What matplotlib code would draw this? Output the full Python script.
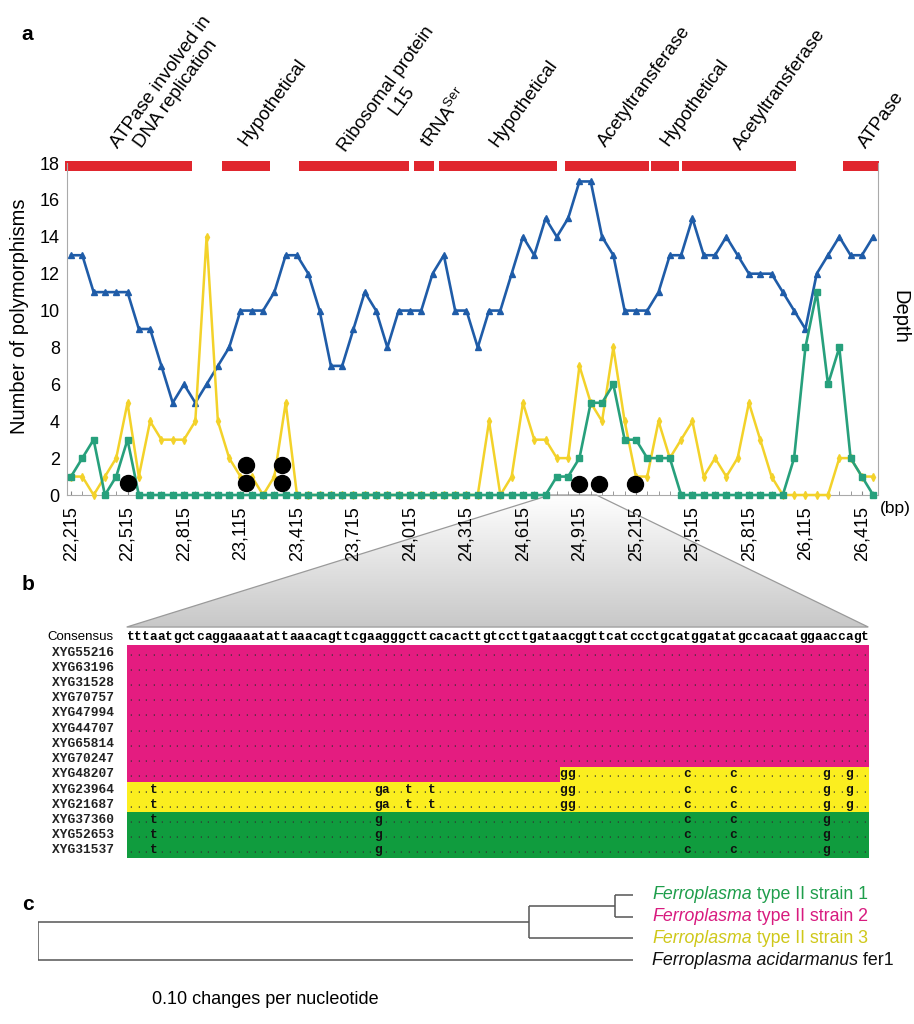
import numpy as np
import matplotlib.pyplot as plt
from matplotlib.patches import Polygon
from matplotlib.colors import ListedColormap, LinearSegmentedColormap

plt.rcParams['font.family'] = ['Liberation Sans', 'DejaVu Sans']
plt.rcParams['mathtext.fontset'] = 'custom'
plt.rcParams['mathtext.rm'] = 'Liberation Sans'
plt.rcParams['mathtext.it'] = 'Liberation Sans:italic'

# ---- panel a data ----
start_bp = 22215
step_bp = 60
depth = [13, 13, 11, 11, 11, 11, 9, 9, 7, 5, 6, 5, 6, 7, 8, 10, 10, 10, 11, 13, 13, 12, 10,
         7, 7, 9, 11, 10, 8, 10, 10, 10, 12, 13, 10, 10, 8, 10, 10, 12, 14, 13, 15, 14, 15, 17, 17, 14, 13,
         10, 10, 10, 11, 13, 13, 15, 13, 13, 14, 13, 12, 12, 12, 11, 10, 9, 12, 13, 14, 13, 13, 14]
yellow_poly = [1, 1, 0, 1, 2, 5, 1, 4, 3, 3, 3, 4, 14, 4, 2, 1, 1, 0, 1, 5, 0, 0, 0,
               0, 0, 0, 0, 0, 0, 0, 0, 0, 0, 0, 0, 0, 0, 4, 0, 1, 5, 3, 3, 2, 2, 7, 5, 4, 8,
               4, 1, 1, 4, 2, 3, 4, 1, 2, 1, 2, 5, 3, 1, 0, 0, 0, 0, 0, 2, 2, 1, 1]
green_poly = [1, 2, 3, 0, 1, 3, 0, 0, 0, 0, 0, 0, 0, 0, 0, 0, 0, 0, 0, 0, 0, 0, 0,
              0, 0, 0, 0, 0, 0, 0, 0, 0, 0, 0, 0, 0, 0, 0, 0, 0, 0, 0, 0, 1, 1, 2, 5, 5, 6,
              3, 3, 2, 2, 2, 0, 0, 0, 0, 0, 0, 0, 0, 0, 0, 2, 8, 11, 6, 8, 2, 1, 0]
dot_bp = [22515, 23145, 23145, 23335, 23335, 24915, 25020, 25210]
dot_y = [0.65, 0.65, 1.6, 0.65, 1.6, 0.6, 0.6, 0.6]

gene_start = [22183, 23019, 23427, 24039, 24171, 24837, 25293, 25461, 26313]
gene_end = [22857, 23271, 24009, 24141, 24795, 25287, 25443, 26067, 26505]
gene_names = ['ATPase involved in\nDNA replication', 'Hypothetical', 'Ribosomal protein\nL15',
              r'tRNA$^{\mathrm{Ser}}$', 'Hypothetical', 'Acetyltransferase', 'Hypothetical',
              'Acetyltransferase', 'ATPase']
label_x = [22535, 23145, 23745, 24120, 24480, 25056, 25385, 25773, 26437]
label_y = [18.2, 18.9, 18.03, 18.75, 18.85, 18.85, 18.9, 18.65, 18.75]

zoom_window = (24759, 25005)

# ---- panel b data ----
consensus = ("tttaatgctcaggaaaatattaaacagttcgaagggcttcacacttgtccttgataacgg"
             "ttcatccctgcatggatatgccacaatggaaccagt")
clone_names = ['XYG55216', 'XYG63196', 'XYG31528', 'XYG70757', 'XYG47994', 'XYG44707',
               'XYG65814', 'XYG70247', 'XYG48207', 'XYG23964', 'XYG21687', 'XYG37360',
               'XYG52653', 'XYG31537']
clone_strain = [2, 2, 2, 2, 2, 2, 2, 2, 2, 3, 3, 1, 1, 1]
mosaic_clone = 'XYG48207'
mosaic_break = 56
snp_strain3 = {3: 't', 32: 'g', 33: 'a', 36: 't', 39: 't', 56: 'g', 57: 'g',
               72: 'c', 78: 'c', 90: 'g', 93: 'g'}
snp_strain1 = {3: 't', 32: 'g', 72: 'c', 78: 'c', 90: 'g'}

# ---- panel c data ----
leaf_labels = [('Ferroplasma', ' type II strain 1'), ('Ferroplasma', ' type II strain 2'),
               ('Ferroplasma', ' type II strain 3'), ('Ferroplasma acidarmanus', ' fer1')]
leaf_colors = ['#1f9e4c', '#d81b7f', '#cfc81a', '#111111']
depth_root, depth_A, depth_B, depth_leaf = 0.0, 0.825, 0.97, 1.0

fig = plt.figure(figsize=(9.14, 10.24), dpi=100)

# ================= panel a =================
ax = fig.add_axes([0.073, 0.5166, 0.8873, 0.3242])
ax.patch.set_alpha(0)
x = start_bp + step_bp * np.arange(len(depth))
ax.plot(x, depth, color='#1f5ca8', lw=1.9, marker='^', ms=4.5, zorder=3, clip_on=False)
ax.plot(x, yellow_poly, color='#f3d22a', lw=1.8, marker='d', ms=4, zorder=4, clip_on=False)
ax.plot(x, green_poly, color='#27a07c', lw=1.9, marker='s', ms=4, zorder=5, clip_on=False)
ax.plot(dot_bp, dot_y, 'o', color='black', ms=11.5, zorder=6, clip_on=False)

for s, e in zip(gene_start, gene_end):
    ax.broken_barh([(s, e - s)], (17.55, 0.55), facecolors='#e0262e', clip_on=False, zorder=2)
for name, lx, ly in zip(gene_names, label_x, label_y):
    ax.text(lx, ly, name, rotation=54, rotation_mode='anchor', ha='left', va='baseline',
            ma='center', fontsize=13.5, clip_on=False)

ax.set_xlim(start_bp - 0.38 * step_bp, start_bp + 71.4 * step_bp)
ax.set_ylim(0, 18)
ax.set_yticks(range(0, 19, 2))
ax.tick_params(axis='y', labelsize=13, length=0, pad=5)
major = np.arange(start_bp, 26416, 300)
ax.set_xticks(major)
ax.set_xticklabels([f'{v:,}' for v in major], rotation=90, fontsize=13)
ax.set_xticks(x, minor=True)
ax.tick_params(axis='x', which='both', direction='in', length=3, color='#888888', pad=8)
for side in ['left', 'right', 'bottom']:
    ax.spines[side].set_color('#aaaaaa')
ax.spines['top'].set_visible(False)

fig.text(20 / 914, 1 - 316 / 1024, 'Number of polymorphisms', rotation=90, fontsize=14.5,
         ha='center', va='center')
fig.text(900 / 914, 1 - 317 / 1024, 'Depth', rotation=270, fontsize=14.5, ha='center', va='center')
fig.text(880 / 914, 1 - 508 / 1024, '(bp)', fontsize=12.5, ha='left', va='center')

# ================= panel b =================
axb = fig.add_axes([126.7 / 914, 1 - 858 / 1024, 741.6 / 914, 213 / 1024])
ncol = len(consensus)
cells = np.zeros((len(clone_names), ncol))
rows = []
for r, (name, st) in enumerate(zip(clone_names, clone_strain)):
    seq = ['.'] * ncol
    if name == mosaic_clone:
        cells[r, :] = 2
        cells[r, mosaic_break:] = 3
        for c, b in snp_strain3.items():
            if c >= mosaic_break:
                seq[c] = b
    else:
        cells[r, :] = st
        snps = {3: snp_strain3, 1: snp_strain1}.get(st, {})
        for c, b in snps.items():
            seq[c] = b
    rows.append(seq)

cmap = ListedColormap(['#109c3e', '#e41c80', '#fbee1f'])
axb.imshow(cells, cmap=cmap, vmin=0.5, vmax=3.5, aspect='auto',
           extent=(0, ncol, len(clone_names), 0), interpolation='nearest')
axb.set_xlim(0, ncol)
axb.set_ylim(len(clone_names), 0)
axb.axis('off')

mono = dict(family='Liberation Mono', fontweight='bold', fontsize=9.3)
for c, b in enumerate(consensus):
    axb.text(c + 0.5, -0.5, b, ha='center', va='center', clip_on=False, **mono)
for r, seq in enumerate(rows):
    for c, b in enumerate(seq):
        if b == '.':
            axb.text(c + 0.5, r + 0.5, b, ha='center', va='center', color='#333333',
                     family='Liberation Mono', fontsize=8, alpha=0.7)
        else:
            axb.text(c + 0.5, r + 0.5, b, ha='center', va='center', color='#111111', **mono)
    axb.text(-1.7, r + 0.5, clone_names[r], ha='right', va='center', clip_on=False,
             color='#222222', **mono)
axb.text(-1.75, -0.5, 'Consensus', ha='right', va='center', fontsize=9.5, clip_on=False)

# zoom trapezoid
axo = fig.add_axes([0, 0, 1, 1], zorder=-1)
axo.axis('off')
inv = fig.transFigure.inverted()
p_tl = inv.transform(ax.transData.transform((zoom_window[0], 0)))
p_tr = inv.transform(ax.transData.transform((zoom_window[1], 0)))
p_br = inv.transform(axb.transData.transform((ncol, -1.18)))
p_bl = inv.transform(axb.transData.transform((0, -1.18)))
pts = np.array([p_tl, p_tr, p_br, p_bl])
poly = Polygon(pts, closed=True, facecolor='none', edgecolor='#9a9a9a', lw=0.9)
axo.add_patch(poly)
grad = np.linspace(1, 0, 256).reshape(-1, 1)
gcmap = LinearSegmentedColormap.from_list('g', ['#ffffff', '#c8c8c8'])
im = axo.imshow(grad, cmap=gcmap, aspect='auto', origin='lower',
                extent=(pts[:, 0].min(), pts[:, 0].max(), pts[:, 1].min(), pts[:, 1].max()))
im.set_clip_path(poly)
axo.set_xlim(0, 1)
axo.set_ylim(0, 1)

# ================= panel c =================
axc = fig.add_axes([38 / 914, 1 - 970 / 1024, 595 / 914, 87 / 1024])
axc.set_xlim(0, 1)
axc.set_ylim(3.45, -0.545)
axc.axis('off')
lc = dict(color='#555555', lw=1.1, solid_capstyle='butt')
yB = 0.5
yA = (yB + 2) / 2
axc.plot([depth_B, depth_B], [0, 1], **lc)
axc.plot([depth_B, depth_leaf], [0, 0], **lc)
axc.plot([depth_B, depth_leaf], [1, 1], **lc)
axc.plot([depth_A, depth_A], [yB, 2], **lc)
axc.plot([depth_A, depth_B], [yB, yB], **lc)
axc.plot([depth_A, depth_leaf], [2, 2], **lc)
axc.plot([depth_root, depth_root], [yA, 3], **lc)
axc.plot([depth_root, depth_A], [yA, yA], **lc)
axc.plot([depth_root, depth_leaf], [3, 3], **lc)

for i, ((ital, rest), col) in enumerate(zip(leaf_labels, leaf_colors)):
    t1 = axc.text(1.032, i, ital, style='italic', color=col, fontsize=12.8,
                  ha='left', va='center', clip_on=False)
    axc.annotate(rest, xy=(1, 0), xycoords=t1, ha='left', va='bottom', color=col,
                 fontsize=12.8, annotation_clip=False)

fig.text(152 / 914, 1 - 1000 / 1024, '0.10 changes per nucleotide', fontsize=13,
         ha='left', va='center')

# panel letters
for lab, py in [('a', 35), ('b', 585), ('c', 905)]:
    fig.text(21.7 / 914, 1 - py / 1024, lab, fontsize=15, fontweight='bold', ha='left',
             va='center')

fig.savefig('out.png', dpi=100)
